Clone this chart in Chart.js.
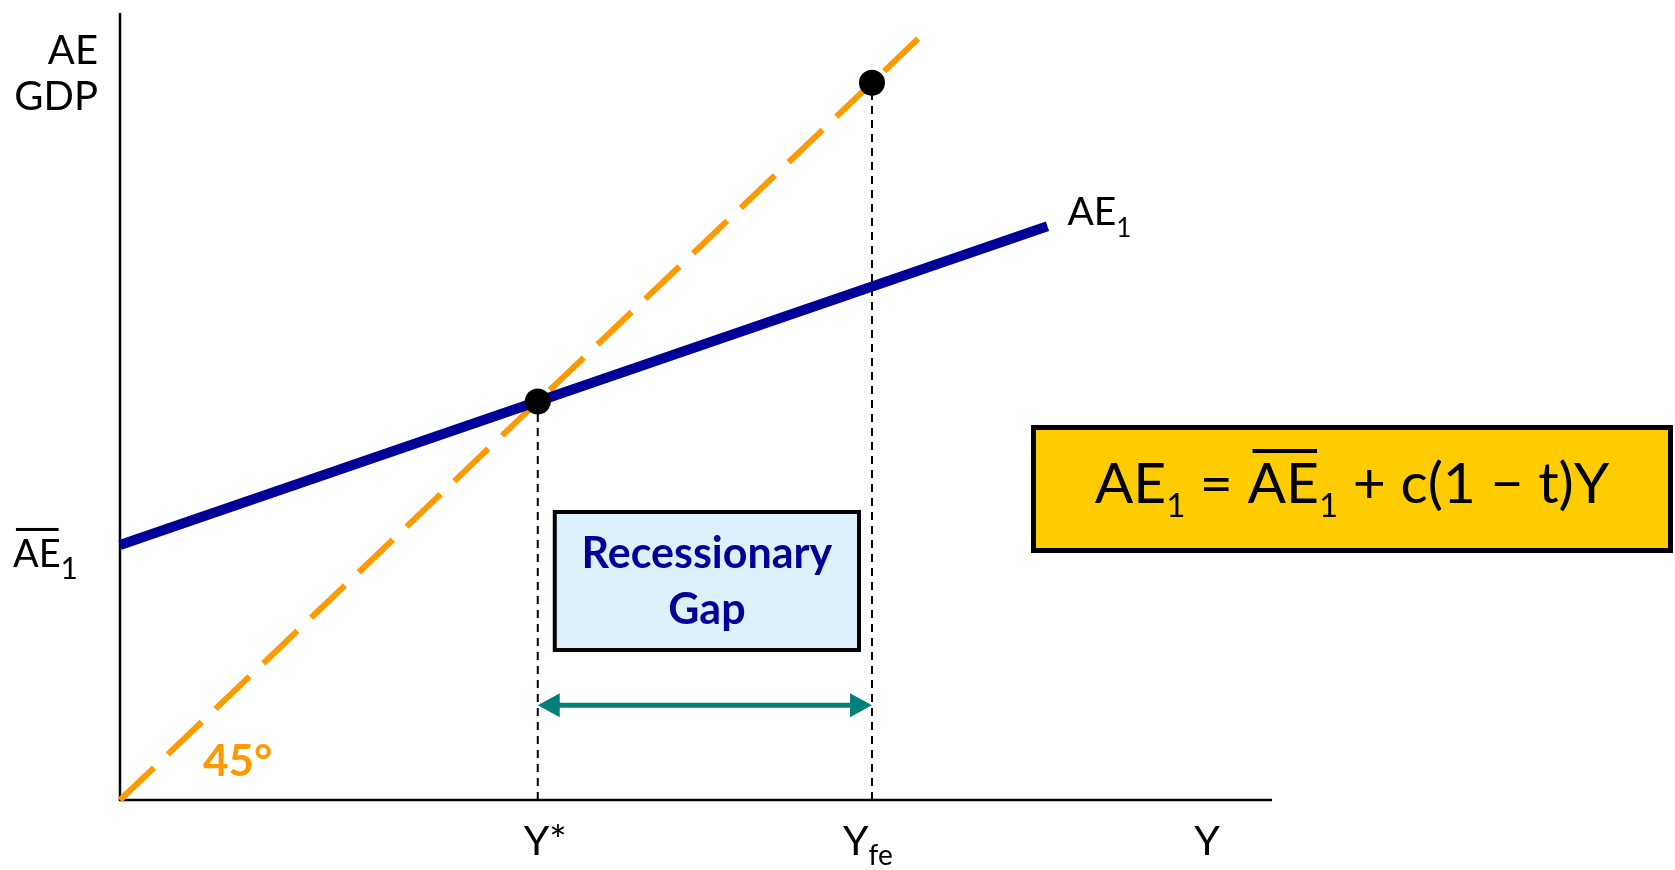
<!DOCTYPE html>
<html>
<head>
<meta charset="utf-8">
<script src="https://cdn.jsdelivr.net/npm/chart.js@4.4.0/dist/chart.umd.min.js"></script>
<style>
  html, body { margin: 0; padding: 0; background: #fff; }
  #wrap { width: 1675px; height: 870px; position: relative; }
</style>
</head>
<body>
<div id="wrap"><canvas id="myChart"></canvas></div>
<script>
// axis ranges
const x_max = 110.3
const y_max = 79

// output levels
const y_star = 40
const y_fe = 72

// 45 degree line, AE = Y
const line45_x = [0, 76.8]
const line45_y = [0, 76.8]

// aggregate expenditure AE1
const ae_x = [0, 88.8]
const ae_y = [25.6, 57.6]

// equilibrium points on the 45 degree line
const dot_x = [y_star, y_fe]
const dot_y = [40, 72]

// height of the gap arrow
const arrow_y = 9.5

const tick_labels = ['Y*', 'Y', 'fe', 'Y']

const NAVY = '#000099'
const ORANGE = '#FF9900'
const TEAL = '#00807A'

const pts = (xs, ys) => xs.map((x, i) => ({ x: x, y: ys[i] }))

// draws text pieces one after another (subscripts, overlines)
const drawRuns = (ctx, runs, x, y, align) => {
  let total = 0
  runs.forEach(r => { ctx.font = r.font; total += ctx.measureText(r.t).width })
  let cx = align === 'right' ? x - total : align === 'center' ? x - total / 2 : x
  ctx.textAlign = 'left'
  ctx.textBaseline = 'alphabetic'
  runs.forEach(r => {
    ctx.font = r.font
    const w = ctx.measureText(r.t).width
    ctx.fillText(r.t, cx, y + (r.dy || 0))
    if (r.bar) {
      ctx.fillRect(cx + r.bar[0], y - r.bar[1], w - r.bar[0] - 2, r.bar[2])
    }
    cx += w
  })
}

const labels = {
  id: 'labels',
  afterDraw(chart) {
    const ctx = chart.ctx
    const xs = chart.scales.x
    const ys = chart.scales.y
    const px0 = xs.getPixelForValue(0)
    const py0 = ys.getPixelForValue(0)
    const pTop = ys.getPixelForValue(y_max)
    ctx.save()

    // gap arrow between Y* and Yfe
    const a1 = xs.getPixelForValue(y_star)
    const a2 = xs.getPixelForValue(y_fe)
    const ay = ys.getPixelForValue(arrow_y)
    const head = 22, half = 12
    ctx.strokeStyle = TEAL
    ctx.fillStyle = TEAL
    ctx.lineWidth = 5
    ctx.beginPath()
    ctx.moveTo(a1 + head - 2, ay)
    ctx.lineTo(a2 - head + 2, ay)
    ctx.stroke()
    ctx.beginPath()
    ctx.moveTo(a1, ay)
    ctx.lineTo(a1 + head, ay - half)
    ctx.lineTo(a1 + head, ay + half)
    ctx.closePath()
    ctx.fill()
    ctx.beginPath()
    ctx.moveTo(a2, ay)
    ctx.lineTo(a2 - head, ay - half)
    ctx.lineTo(a2 - head, ay + half)
    ctx.closePath()
    ctx.fill()

    // recessionary gap box
    const bx1 = a1 + 17, bx2 = a2 - 13
    const by1 = py0 - 288, by2 = py0 - 150
    ctx.fillStyle = '#DDF1FC'
    ctx.fillRect(bx1, by1, bx2 - bx1, by2 - by1)
    ctx.strokeStyle = '#000'
    ctx.lineWidth = 4
    ctx.strokeRect(bx1, by1, bx2 - bx1, by2 - by1)
    ctx.fillStyle = NAVY
    ctx.font = 'bold 43px Lato'
    ctx.textAlign = 'center'
    ctx.textBaseline = 'alphabetic'
    ctx.fillText('Recessionary', (bx1 + bx2) / 2, by1 + 56)
    ctx.fillText('Gap', (bx1 + bx2) / 2, by1 + 112)

    // equation box
    const ex1 = 1033.5, ey1 = 427.5, ew = 637, eh = 123
    ctx.fillStyle = '#FFCC00'
    ctx.fillRect(ex1, ey1, ew, eh)
    ctx.lineWidth = 5
    ctx.strokeRect(ex1, ey1, ew, eh)
    ctx.fillStyle = '#000'
    const big = '57px Lato', sub = '33px Lato'
    drawRuns(ctx, [
      { t: 'AE', font: big },
      { t: '1', font: sub, dy: 14 },
      { t: ' = ', font: big },
      { t: 'AE', font: big, bar: [5, 54, 4] },
      { t: '1', font: sub, dy: 14 },
      { t: ' + c(1 \u2212 t)Y', font: big }
    ], ex1 + ew / 2, 503, 'center')

    // axis titles
    ctx.fillStyle = '#000'
    ctx.font = '40px Lato'
    ctx.textAlign = 'right'
    ctx.fillText('AE', px0 - 22, pTop + 51)
    ctx.fillText('GDP', px0 - 22, pTop + 97)

    // intercept label
    drawRuns(ctx, [
      { t: 'AE', font: '38px Lato', bar: [3, 39, 3] },
      { t: '1', font: '30px Lato', dy: 12 }
    ], px0 - 42, ys.getPixelForValue(ae_y[0]) + 22, 'right')

    // end of AE1 line
    drawRuns(ctx, [
      { t: 'AE', font: '39px Lato' },
      { t: '1', font: '26px Lato', dy: 12 }
    ], xs.getPixelForValue(ae_x[1]) + 20, ys.getPixelForValue(ae_y[1]) - 1, 'left')

    // horizontal axis labels
    const base = py0 + 55
    drawRuns(ctx, [{ t: tick_labels[0], font: '41px Lato' }], a1 - 14, base, 'left')
    drawRuns(ctx, [
      { t: tick_labels[1], font: '41px Lato' },
      { t: tick_labels[2], font: '28px Lato', dy: 10 }
    ], a2 - 29, base, 'left')
    ctx.font = '41px Lato'
    ctx.textAlign = 'center'
    ctx.fillText(tick_labels[3], xs.getPixelForValue(x_max) - 65, base)

    // 45 degree mark
    ctx.fillStyle = ORANGE
    ctx.font = 'bold 44px Lato'
    ctx.textAlign = 'left'
    ctx.fillText('45\u00B0', px0 + 83, py0 - 24)

    ctx.restore()
  }
}

const data = {
  datasets: [
    {
      // equilibrium dots
      data: pts(dot_x, dot_y),
      showLine: false,
      pointRadius: 13,
      pointBackgroundColor: '#000',
      pointBorderWidth: 0,
      order: 0,
      clip: false
    },
    {
      data: pts(ae_x, ae_y),
      showLine: true,
      borderColor: NAVY,
      borderWidth: 10,
      pointRadius: 0,
      order: 1,
      clip: false
    },
    {
      data: pts(line45_x, line45_y),
      showLine: true,
      borderColor: ORANGE,
      borderWidth: 6,
      borderDash: [47, 19],
      pointRadius: 0,
      order: 2,
      clip: false
    },
    {
      data: pts([y_star, y_star], [0, dot_y[0]]),
      showLine: true,
      borderColor: '#000',
      borderWidth: 2,
      borderDash: [8, 6],
      pointRadius: 0,
      order: 3,
      clip: false
    },
    {
      data: pts([y_fe, y_fe], [0, dot_y[1]]),
      showLine: true,
      borderColor: '#000',
      borderWidth: 2,
      borderDash: [8, 6],
      pointRadius: 0,
      order: 3,
      clip: false
    },
    {
      // axes
      data: pts([0, 0, x_max], [y_max, 0, 0]),
      showLine: true,
      borderColor: '#000',
      borderWidth: 2.5,
      pointRadius: 0,
      order: 4,
      clip: false
    }
  ]
}

const config = {
  type: 'scatter',
  data: data,
  options: {
    responsive: true,
    maintainAspectRatio: false,
    animation: false,
    layout: { padding: { left: 120, right: 403, top: 10, bottom: 70 } },
    plugins: { legend: { display: false }, tooltip: { enabled: false } },
    scales: {
      x: { type: 'linear', min: 0, max: x_max, display: false },
      y: { type: 'linear', min: 0, max: y_max, display: false }
    }
  },
  plugins: [labels]
}

const myChart = new Chart(document.getElementById('myChart'), config)
</script>
</body>
</html>
